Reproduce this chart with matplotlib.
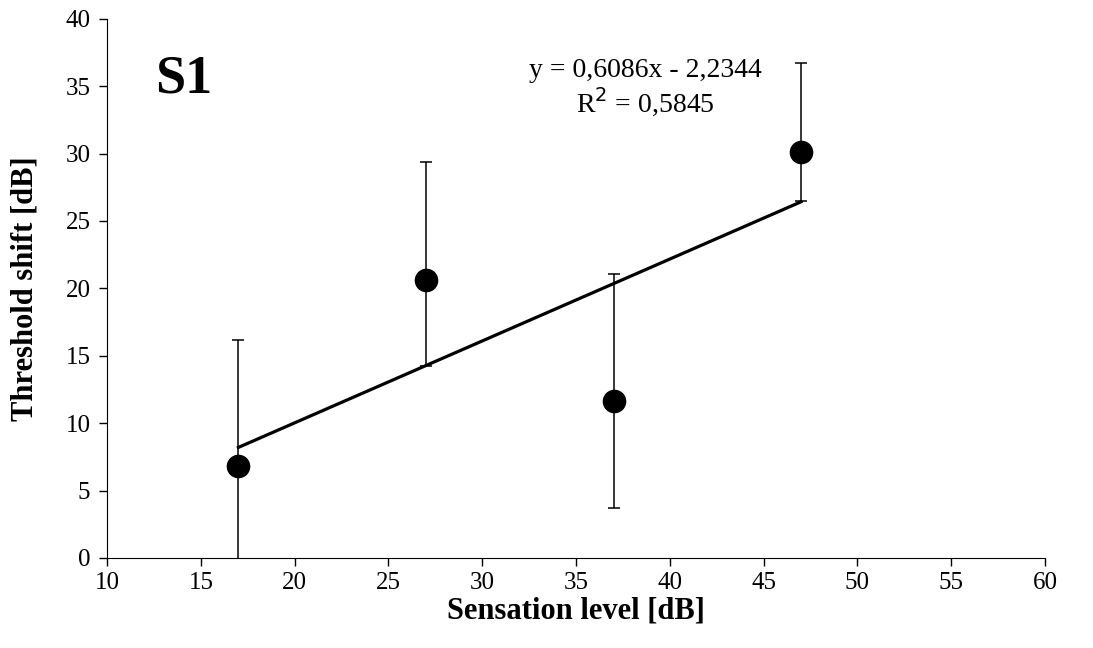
import numpy as np
import matplotlib
matplotlib.use('Agg')
import matplotlib.pyplot as plt

plt.rcParams['font.family'] = ['Liberation Serif', 'DejaVu Serif']

# data
level = [17, 27, 37, 47]
shift = [6.85, 20.65, 11.65, 30.1]
err_low = [9.3, 6.4, 7.95, 3.6]
err_high = [9.3, 8.7, 9.4, 6.6]

eq_text = 'y = 0,6086x - 2,2344'
r2_text = 'R$^{2}$ = 0,5845'

fig = plt.figure(figsize=(10.93, 6.48), dpi=100)
ax = fig.add_axes([0.098, 0.139, 0.858, 0.832])

ax.errorbar(level, shift, yerr=[err_low, err_high], fmt='none',
            ecolor='black', elinewidth=1.1, capsize=4, capthick=1.1, zorder=2)

coef = np.polyfit(level, shift, 1)
xs = np.array([min(level), max(level)])
ax.plot(xs, np.polyval(coef, xs), color='black', lw=2.3, zorder=3)

ax.plot(level, shift, 'o', color='black', markersize=16, zorder=4)

ax.set_xlim(10, 60)
ax.set_ylim(0, 40)
ax.set_xticks(np.arange(10, 61, 5))
ax.set_yticks(np.arange(0, 41, 5))
for s in ['top', 'right']:
    ax.spines[s].set_visible(False)
ax.tick_params(direction='out', length=6, width=1, labelsize=18)
ax.tick_params(axis='x', pad=4)
ax.tick_params(axis='y', pad=6)

ax.set_xlabel('Sensation level [dB]', fontsize=22, fontweight='bold', labelpad=2)
ax.set_ylabel('Threshold shift [dB]', fontsize=22, fontweight='bold', labelpad=19)

ax.text(0.051, 0.888, 'S1', transform=ax.transAxes, fontsize=39,
        fontweight='bold', ha='left', va='center')
ax.text(0.574, 0.905, eq_text, transform=ax.transAxes, fontsize=20,
        ha='center', va='center')
ax.text(0.574, 0.845, r2_text, transform=ax.transAxes, fontsize=20,
        ha='center', va='center')

fig.savefig('out.png', dpi=100, facecolor='white')
